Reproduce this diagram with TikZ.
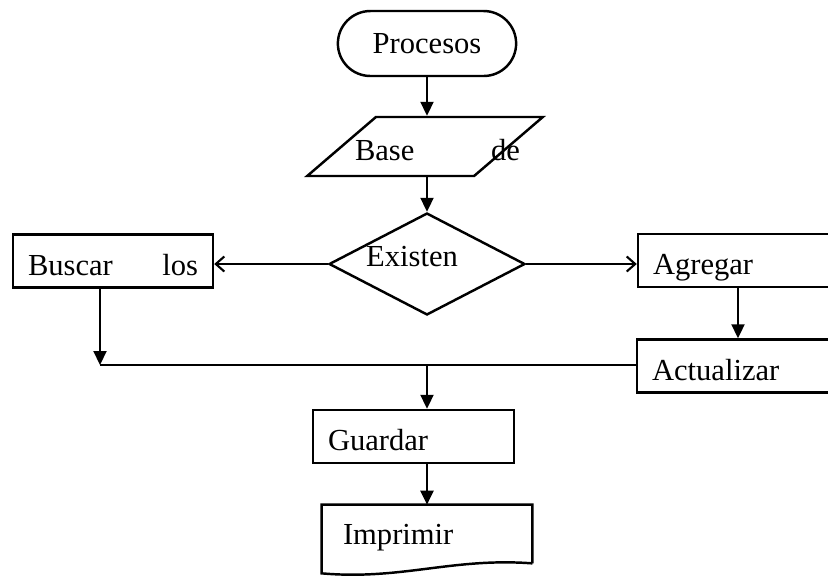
\documentclass[tikz,border=0pt]{standalone}
\usepackage{fontspec}
\setmainfont{Liberation Serif}
\usepackage{tikz}
\usetikzlibrary{arrows.meta,shapes.geometric,shapes.misc}

\tikzset{
  box/.style={draw, line width=1.4pt, rectangle, minimum height=1.06cm, inner xsep=0.3cm, inner ysep=0pt,
    text height=0.68cm, text depth=0.12cm, text width=3.4cm, align=left},
  flow/.style={line width=1.2pt, -{Triangle[length=0.28cm,width=0.26cm]}},
  side/.style={line width=1.2pt, -{Straight Barb[length=0.17cm,width=0.3cm]}},
}

\begin{document}
\begin{tikzpicture}[x=0.02cm, y=-0.02cm, every node/.style={font=\fontsize{17.4}{20}\selectfont}]
\useasboundingbox (0,0) rectangle (828,576);
\node[draw, line width=1.4pt, rounded rectangle, minimum width=3.8cm, minimum height=1.3cm] (proc) at (427,43.5) {Procesos};
\node[draw, line width=1.4pt, trapezium, trapezium left angle=55, trapezium right angle=125, trapezium stretches=true,
      minimum width=4.72cm, minimum height=1.18cm,
      label={[xshift=0.25cm, yshift=-0.07cm, text width=3.3cm, align=left]center:Base\hfill de}] (base) at (425,146.5) {};
\node[draw, line width=1.4pt, diamond, minimum width=3.92cm, minimum height=2.04cm, inner sep=0pt,
      label={[xshift=-0.3cm, yshift=0.14cm]center:Existen}] (exist) at (427,264) {};
\node[box] (busc) at (113,261) {Buscar\hfill los};
\node[box] (agr) at (738,260.5) {Agregar};
\node[box] (act) at (737,366) {Actualizar};
\node[box, text width=3.42cm] (guard) at (413.5,436.5) {Guardar};
\node[rectangle, minimum width=4.2cm, minimum height=1.16cm, inner xsep=0.42cm, inner ysep=0pt, text height=0.6cm, text depth=0.2cm,
      text width=3.36cm, align=left] (imp) at (427,534) {Imprimir};
\draw[line width=1.4pt] (imp.south east) -- (imp.north east) -- (imp.north west) -- ([yshift=-0.2cm]imp.south west)
  .. controls ([xshift=1.6cm,yshift=-0.34cm]imp.south west) and ([xshift=-1.6cm,yshift=0.12cm]imp.south east) .. (imp.south east);
\coordinate (join) at (100,365);
\coordinate (split) at (427,365);
\draw[flow] (proc.south) -- (proc.south |- base.north);
\draw[flow] (proc.south |- base.south) -- (exist.north);
\draw[side] (exist.west) -- (busc.east |- exist.west);
\draw[side] (exist.east) -- (agr.west |- exist.east);
\draw[flow] (busc.south -| join) -- (join);
\draw[flow] (agr.south) -- (act.north -| agr.south);
\draw[line width=1.2pt] (act.west |- join) -- (join);
\draw[flow] (split) -- (split |- guard.north);
\draw[flow] (split |- guard.south) -- (imp.north);
\end{tikzpicture}
\end{document}
